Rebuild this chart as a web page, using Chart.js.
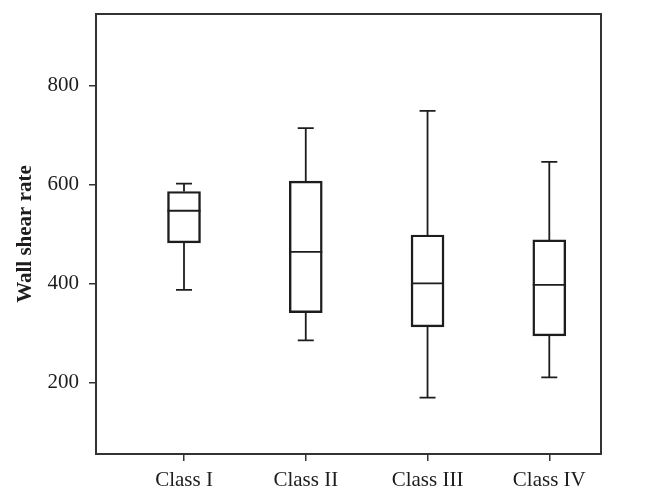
<!DOCTYPE html>
<html>
<head>
<meta charset="utf-8">
<script src="https://cdn.jsdelivr.net/npm/chart.js@4.4.1/dist/chart.umd.min.js"></script>
<style>
  html, body { margin: 0; padding: 0; background: #fff; }
  #wrap { width: 652px; height: 501px; }
</style>
</head>
<body>
<div id="wrap"><canvas id="c" width="652" height="501"></canvas></div>
<script>
// ---- data ----
const categories = ["Class I", "Class II", "Class III", "Class IV"];
const whiskerLow  = [387, 285, 169, 210];
const q1          = [482, 341, 312, 294];
const median      = [547, 464, 400, 397];
const q3          = [586, 607, 498, 488];
const whiskerHigh = [602, 714, 749, 646];
const yTicks = [200, 400, 600, 800];
const yTitle = "Wall shear rate";

const positions = categories.map((c, i) => i + 1);
const ink = "#1f1c1d";
const serif = "'Liberation Serif', 'Times New Roman', serif";

const boxPlugin = {
  id: "boxExtras",
  afterDatasetsDraw(chart) {
    const {ctx, chartArea, scales: {x, y}} = chart;
    ctx.save();
    ctx.strokeStyle = ink;
    ctx.lineWidth = 1.8;
    const capHalf = 8;
    const meta = chart.getDatasetMeta(0);
    positions.forEach((p, i) => {
      const cx = x.getPixelForValue(p);
      const bar = meta.data[i];
      const half = bar.width / 2;
      const yMed = y.getPixelForValue(median[i]);
      const yLo = y.getPixelForValue(whiskerLow[i]);
      const yHi = y.getPixelForValue(whiskerHigh[i]);
      const yQ1 = y.getPixelForValue(q1[i]);
      const yQ3 = y.getPixelForValue(q3[i]);
      ctx.beginPath();
      ctx.moveTo(cx - half, yMed); ctx.lineTo(cx + half, yMed);
      ctx.moveTo(cx, yQ3); ctx.lineTo(cx, yHi);
      ctx.moveTo(cx, yQ1); ctx.lineTo(cx, yLo);
      ctx.moveTo(cx - capHalf, yHi); ctx.lineTo(cx + capHalf, yHi);
      ctx.moveTo(cx - capHalf, yLo); ctx.lineTo(cx + capHalf, yLo);
      ctx.stroke();
    });
    ctx.strokeStyle = "#333333";
    ctx.lineWidth = 2;
    ctx.strokeRect(chartArea.left, chartArea.top, chartArea.right - chartArea.left, chartArea.bottom - chartArea.top);
    ctx.restore();
  }
};

new Chart(document.getElementById("c"), {
  type: "bar",
  data: {
    datasets: [{
      data: positions.map((p, i) => ({x: p, y: [q1[i], q3[i]]})),
      backgroundColor: "rgba(255,255,255,0)",
      borderColor: ink,
      borderWidth: 1.8,
      borderSkipped: false,
      barThickness: 33
    }]
  },
  options: {
    responsive: false,
    animation: false,
    layout: { padding: { left: 0, top: 14, right: 51, bottom: 0 } },
    plugins: { legend: { display: false }, tooltip: { enabled: false } },
    scales: {
      x: {
        type: "linear",
        offset: false,
        min: 0.2773,
        max: 4.4246,
        afterBuildTicks: (s) => { s.ticks = positions.map(v => ({value: v})); },
        afterFit: (s) => { s.height = 47; s.paddingLeft = 0; s.paddingRight = 0; },
        border: { display: false },
        grid: { display: true, offset: false, drawOnChartArea: false, drawTicks: true, tickLength: 7, color: "#333333", lineWidth: 1.5 },
        ticks: {
          color: ink,
          padding: 7,
          autoSkip: false,
          maxRotation: 0,
          font: { family: serif, size: 21 },
          callback: (v) => categories[positions.indexOf(v)] ?? ""
        }
      },
      y: {
        min: 55,
        max: 945,
        afterBuildTicks: (s) => { s.ticks = yTicks.map(v => ({value: v})); },
        afterFit: (s) => { s.width = 96; s.paddingTop = 0; s.paddingBottom = 0; },
        border: { display: false },
        grid: { display: true, drawOnChartArea: false, drawTicks: true, tickLength: 7, color: "#333333", lineWidth: 1.5 },
        ticks: {
          color: ink,
          padding: 10,
          font: { family: serif, size: 21 }
        },
        title: {
          display: true,
          text: yTitle,
          color: ink,
          padding: { top: 13, bottom: 0 },
          font: { family: serif, size: 21, weight: "bold" }
        }
      }
    }
  },
  plugins: [boxPlugin]
});
</script>
</body>
</html>
